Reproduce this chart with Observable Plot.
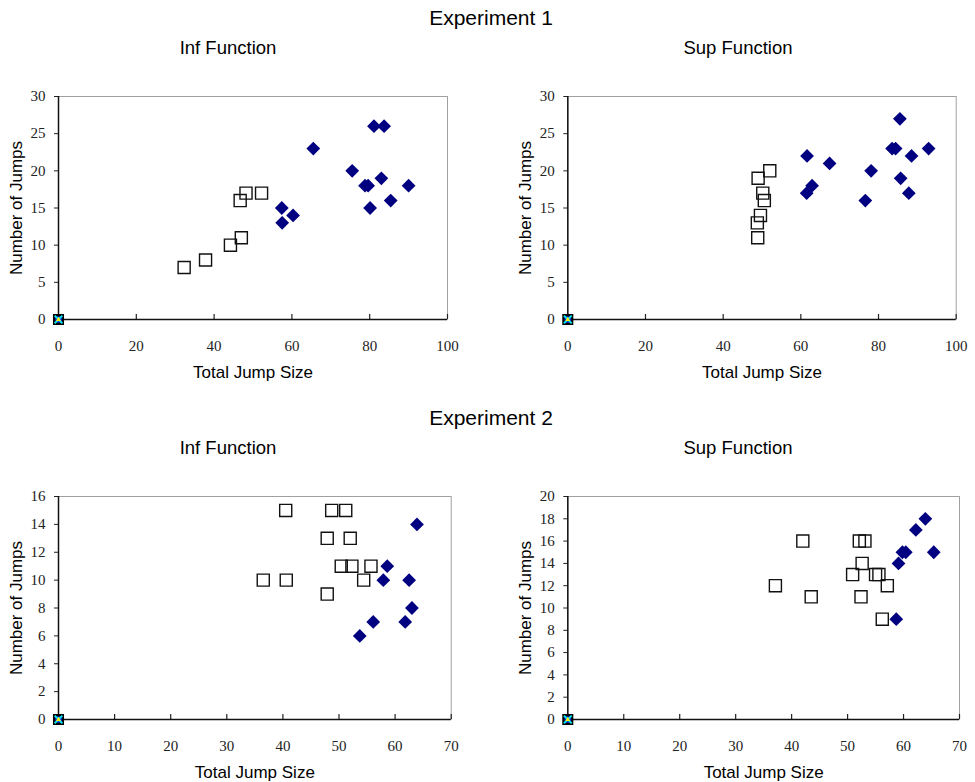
<!DOCTYPE html>
<html><head><meta charset="utf-8">
<script src="https://cdn.jsdelivr.net/npm/d3@7"></script>
<script src="https://cdn.jsdelivr.net/npm/@observablehq/plot@0.6"></script>
<style>
body{margin:0;background:#fff}
#root{position:relative;width:975px;height:782px;overflow:hidden;background:#fff;font-family:"Liberation Sans",Arial,sans-serif}
.t{position:absolute;white-space:nowrap;line-height:1;transform:translateX(-50%);color:#000}
.panel{position:absolute}
</style>
</head><body>
<div id="root">
  <div class="t" style="left:491px;top:7px;font-size:21px">Experiment 1</div>
  <div class="t" style="left:228px;top:39px;font-size:18.5px">Inf Function</div>
  <div class="t" style="left:738px;top:39px;font-size:18.5px">Sup Function</div>
  <div class="t" style="left:491px;top:407px;font-size:21px">Experiment 2</div>
  <div class="t" style="left:228px;top:439px;font-size:18.5px">Inf Function</div>
  <div class="t" style="left:738px;top:439px;font-size:18.5px">Sup Function</div>
</div>
<script>
// ---- Data ----
const xTitle = "Total Jump Size";
const yTitle = "Number of Jumps";

const exp1XTicks = [0, 20, 40, 60, 80, 100];
const exp1YTicks = [0, 5, 10, 15, 20, 25, 30];
const exp2XTicks = [0, 10, 20, 30, 40, 50, 60, 70];
const exp2InfYTicks = [0, 2, 4, 6, 8, 10, 12, 14, 16];
const exp2SupYTicks = [0, 2, 4, 6, 8, 10, 12, 14, 16, 18, 20];

const originX = [0];
const originY = [0];

// Experiment 1, Inf Function
const e1InfOpenX = [32.3, 37.8, 44.2, 47.0, 46.7, 48.2, 52.2];
const e1InfOpenY = [7, 8, 10, 11, 16, 17, 17];
const e1InfFillX = [57.4, 57.5, 60.3, 65.5, 75.5, 78.8, 79.6, 80.1, 81.1, 83.7, 83.0, 85.4, 90.0];
const e1InfFillY = [15, 13, 14, 23, 20, 18, 18, 15, 26, 26, 19, 16, 18];

// Experiment 1, Sup Function
const e1SupOpenX = [52.0, 49.0, 50.2, 50.6, 49.6, 48.8, 48.9];
const e1SupOpenY = [20, 19, 17, 16, 14, 13, 11];
const e1SupFillX = [61.6, 61.5, 62.9, 67.4, 76.6, 78.1, 83.5, 84.4, 85.5, 85.7, 88.5, 87.8, 92.9];
const e1SupFillY = [22, 17, 18, 21, 16, 20, 23, 23, 27, 19, 22, 17, 23];

// Experiment 2, Inf Function
const e2InfOpenX = [36.5, 40.6, 40.5, 48.7, 51.2, 47.9, 52.0, 50.4, 52.3, 55.7, 54.4, 47.9];
const e2InfOpenY = [10, 10, 15, 15, 15, 13, 13, 11, 11, 11, 10, 9];
const e2InfFillX = [63.9, 58.6, 57.9, 62.5, 63.0, 61.8, 56.1, 53.7];
const e2InfFillY = [14, 11, 10, 10, 8, 7, 7, 6];

// Experiment 2, Sup Function
const e2SupOpenX = [37.1, 42.0, 43.5, 52.1, 53.1, 52.6, 50.9, 55.0, 55.6, 57.1, 52.4, 56.2];
const e2SupOpenY = [12, 16, 11, 16, 16, 14, 13, 13, 13, 12, 11, 9];
const e2SupFillX = [63.9, 62.2, 59.8, 60.4, 65.4, 59.1, 58.7];
const e2SupFillY = [18, 17, 15, 15, 15, 14, 9];

// ---- Drawing ----
const zip = (xs, ys) => xs.map((x, i) => ({x, y: ys[i]}));
const serif = "Liberation Serif, Times New Roman, serif";
const sans = "Liberation Sans, Arial, sans-serif";

function panel({left, top, width, height, ml, mr, mt, mb, xTicks, yTicks, openX, openY, fillX, fillY}) {
  const innerH = height - mt - mb;
  const origin = zip(originX, originY);
  const chart = Plot.plot({
    width, height,
    marginLeft: ml, marginRight: mr, marginTop: mt, marginBottom: mb,
    style: {fontFamily: serif, fontSize: "15px", color: "#222", background: "white", overflow: "visible"},
    x: {domain: [xTicks[0], xTicks[xTicks.length - 1]]},
    y: {domain: [yTicks[0], yTicks[yTicks.length - 1]]},
    marks: [
      Plot.frame({stroke: "#a0a0a0", strokeWidth: 1}),
      Plot.axisX(xTicks, {tickSize: 0, tickPadding: 21, label: null, tickFormat: d => d, fontFamily: serif, fontSize: 15, fill: "#222"}),
      Plot.axisY(yTicks, {tickSize: 4, tickPadding: 9, label: null, tickFormat: d => d, stroke: "#222", fontFamily: serif, fontSize: 15, fill: "#222"}),
      Plot.tickX(xTicks, {x: d => d, insetTop: innerH - 5, stroke: "#222", strokeWidth: 1.2}),
      Plot.ruleX([xTicks[0]], {stroke: "#111", strokeWidth: 1.5}),
      Plot.ruleY([yTicks[0]], {stroke: "#111", strokeWidth: 1.5}),
      Plot.dot(zip(openX, openY), {x: "x", y: "y", symbol: "square", r: 6.8, stroke: "#111", strokeWidth: 1.4, fill: "none"}),
      Plot.dot(zip(fillX, fillY), {x: "x", y: "y", symbol: "diamond2", r: 6.2, fill: "#000080", stroke: "none"}),
      Plot.dot(origin, {x: "x", y: "y", symbol: "square", r: 5, fill: "#1020d0", stroke: "#000", strokeWidth: 2.2}),
      Plot.dot(origin, {x: "x", y: "y", symbol: "times", r: 3.6, stroke: "#00e8f0", strokeWidth: 2}),
      Plot.dot(origin, {x: "x", y: "y", symbol: "triangle", r: 1.8, fill: "#ffee00", stroke: "none"}),
      Plot.text([xTitle], {frameAnchor: "bottom", dy: 58, lineAnchor: "bottom", textAnchor: "middle", fontFamily: sans, fontSize: 17, fill: "#000"}),
      Plot.text([yTitle], {frameAnchor: "left", dx: -37, rotate: -90, lineAnchor: "bottom", textAnchor: "middle", fontFamily: sans, fontSize: 17, fill: "#000"})
    ]
  });
  chart.classList.add("panel");
  chart.style.left = left + "px";
  chart.style.top = top + "px";
  document.getElementById("root").appendChild(chart);
}

panel({left: 0, top: 80, width: 487, height: 310, ml: 58, mr: 40, mt: 16, mb: 71,
  xTicks: exp1XTicks, yTicks: exp1YTicks, openX: e1InfOpenX, openY: e1InfOpenY, fillX: e1InfFillX, fillY: e1InfFillY});
panel({left: 487, top: 80, width: 488, height: 310, ml: 80.3, mr: 19.3, mt: 16, mb: 71,
  xTicks: exp1XTicks, yTicks: exp1YTicks, openX: e1SupOpenX, openY: e1SupOpenY, fillX: e1SupFillX, fillY: e1SupFillY});
panel({left: 0, top: 480, width: 487, height: 302, ml: 58, mr: 36.3, mt: 16, mb: 63,
  xTicks: exp2XTicks, yTicks: exp2InfYTicks, openX: e2InfOpenX, openY: e2InfOpenY, fillX: e2InfFillX, fillY: e2InfFillY});
panel({left: 487, top: 480, width: 488, height: 302, ml: 80.3, mr: 16, mt: 16, mb: 63,
  xTicks: exp2XTicks, yTicks: exp2SupYTicks, openX: e2SupOpenX, openY: e2SupOpenY, fillX: e2SupFillX, fillY: e2SupFillY});
</script>
</body></html>
